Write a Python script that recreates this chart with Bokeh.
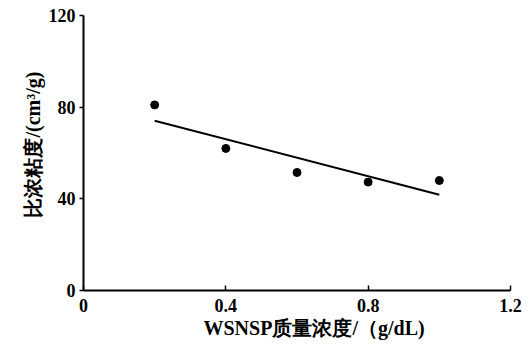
import numpy as np
from bokeh.plotting import figure
from bokeh.models import Title, FixedTicker, Range1d
from bokeh.embed import file_html
from bokeh.resources import INLINE

# data
conc = [0.2, 0.4, 0.6, 0.8, 1.0]
visc = [81, 62, 51.5, 47.3, 48]
x_ticks = [0, 0.4, 0.8, 1.2]
x_tick_labels = ["0", "0.4", "0.8", "1.2"]
y_ticks = [0, 40, 80, 120]
y_tick_labels = ["0", "40", "80", "120"]
x_title = "WSNSP质量浓度/（g/dL)"
y_title = "比浓粘度/(cm³/g)"

W, H = 528, 343
p = figure(width=W, height=H, output_backend="svg", toolbar_location=None,
           x_range=Range1d(0, 1.2), y_range=Range1d(0, 120),
           min_border_left=83, min_border_right=18, min_border_top=15, min_border_bottom=53)
p.outline_line_color = None
p.grid.visible = False
p.background_fill_color = "white"

slope, intercept = np.polyfit(conc, visc, 1)
fx = [min(conc), max(conc)]
fy = [slope * v + intercept for v in fx]
p.line(fx, fy, line_color="black", line_width=2)
p.scatter(conc, visc, size=8, color="black")

serif = "Liberation Serif"
p.xaxis.ticker = FixedTicker(ticks=x_ticks)
p.yaxis.ticker = FixedTicker(ticks=y_ticks)
p.xaxis.major_label_overrides = {t: l for t, l in zip(x_ticks, x_tick_labels)}
p.yaxis.major_label_overrides = {t: l for t, l in zip(y_ticks, y_tick_labels)}
for ax in (p.xaxis, p.yaxis):
    ax.minor_tick_line_color = None
    ax.axis_line_width = 2
    ax.major_tick_line_width = 1.5
    ax.major_label_text_font = serif
    ax.major_label_text_font_size = "18px"
    ax.major_label_text_font_style = "bold"
    ax.major_label_text_color = "black"
    ax.axis_line_color = "black"
    ax.major_tick_line_color = "black"
p.xaxis.major_tick_in = 5
p.xaxis.major_tick_out = 0
p.xaxis.major_label_standoff = 8
p.yaxis.major_tick_in = 0
p.yaxis.major_tick_out = 4
p.yaxis.major_label_standoff = 4

p.add_layout(Title(text=x_title, align="left", offset=120, standoff=1,
                   text_font=serif, text_font_size="20px", text_font_style="bold",
                   text_color="black"), "below")
p.add_layout(Title(text=y_title, align="left", offset=73, standoff=4,
                   text_font=serif, text_font_size="20px", text_font_style="bold",
                   text_color="black"), "left")

open("out.html", "w").write(file_html(p, INLINE))
